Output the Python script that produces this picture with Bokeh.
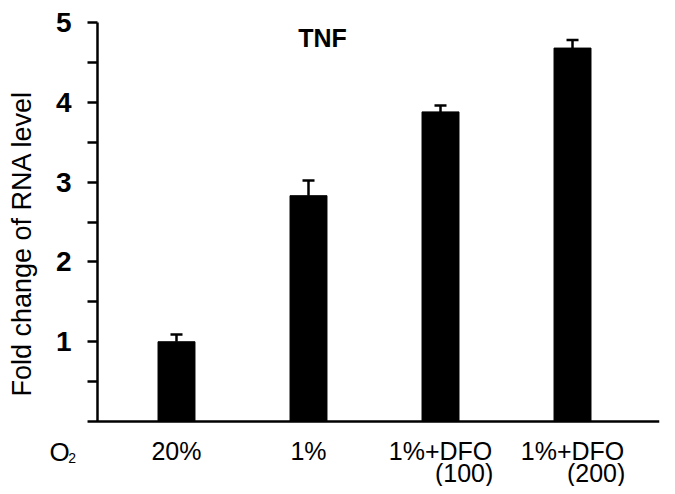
from bokeh.plotting import figure
from bokeh.models import Range1d, FixedTicker, Label, Whisker, TeeHead, ColumnDataSource
from bokeh.embed import file_html
from bokeh.resources import INLINE

# ---- data ----
conditions = ["20%", "1%", "1%+DFO", "1%+DFO"]
doses = ["", "", "(100)", "(200)"]
fold_change = [1.0, 2.83, 3.88, 4.68]
error_up = [0.09, 0.19, 0.08, 0.10]
y_ticks = [1, 2, 3, 4, 5]
y_minor_ticks = [0.5, 1.5, 2.5, 3.5, 4.5]
title_text = "TNF"
y_label = "Fold change of RNA level"

FONT = "Liberation Sans"

xs = list(range(1, len(conditions) + 1))
upper = [v + e for v, e in zip(fold_change, error_up)]
src = ColumnDataSource(dict(x=xs, top=fold_change, upper=upper))

X0, X1 = -0.3333, 4.659       # x range (frame spans whole width)
Y0, Y1 = -0.814, 5.276        # y range (frame spans whole height)
Y_AXIS_X = 0.4015             # where the vertical axis stands
X_AXIS_START = 0.326          # left end of the horizontal axis line

p = figure(width=667, height=486, output_backend="svg", toolbar_location=None,
           x_range=Range1d(X0, X1), y_range=Range1d(Y0, Y1),
           min_border_left=0, min_border_right=8, min_border_top=0,
           min_border_bottom=0)
p.background_fill_color = "white"
p.border_fill_color = "white"
p.outline_line_color = None
p.grid.visible = False

p.vbar(x="x", top="top", bottom=0, width=0.28, source=src,
       fill_color="black", line_color="black")

w = Whisker(base="x", lower="top", upper="upper", source=src,
            lower_head=None,
            upper_head=TeeHead(size=12, line_width=2.5, line_color="black"),
            line_width=2.5, line_color="black")
p.add_layout(w)

# axis lines
p.segment(x0=[X_AXIS_START], y0=[0], x1=[X1], y1=[0], line_color="black", line_width=2.5)
p.segment(x0=[Y_AXIS_X], y0=[0], x1=[Y_AXIS_X], y1=[y_ticks[-1]], line_color="black",
          line_width=2.5)

# y axis (ticks and labels)
yax = p.yaxis[0]
yax.fixed_location = Y_AXIS_X
yax.ticker = FixedTicker(ticks=y_ticks, minor_ticks=y_minor_ticks)
yax.axis_line_color = None
yax.major_tick_in = 0
yax.major_tick_out = 10
yax.minor_tick_in = 0
yax.minor_tick_out = 10
yax.major_tick_line_width = 2.5
yax.minor_tick_line_width = 2.5
yax.major_tick_line_color = "black"
yax.minor_tick_line_color = "black"
yax.major_label_text_font = FONT
yax.major_label_text_font_size = "28px"
yax.major_label_text_font_style = "bold"
yax.major_label_text_color = "black"
yax.major_label_standoff = 16
yax.axis_label = y_label
yax.axis_label_text_font = FONT
yax.axis_label_text_font_size = "27px"
yax.axis_label_text_font_style = "normal"
yax.axis_label_text_color = "black"
yax.axis_label_standoff = 16

# x axis (tick labels)
xax = p.xaxis[0]
xax.fixed_location = 0
xax.ticker = FixedTicker(ticks=xs, minor_ticks=[])
xax.major_label_overrides = {x: c for x, c in zip(xs, conditions)}
xax.axis_line_color = None
xax.major_tick_in = 0
xax.major_tick_out = 0
xax.minor_tick_in = 0
xax.minor_tick_out = 0
xax.major_label_text_font = FONT
xax.major_label_text_font_size = "25px"
xax.major_label_text_color = "black"
xax.major_label_standoff = 15

# second line of the x labels
for x, d in zip(xs, doses):
    if d:
        p.add_layout(Label(x=x + 0.40, y=-0.65, text=d, text_align="right",
                           text_baseline="middle", text_font=FONT,
                           text_font_size="25px", text_color="black"))

# O2 label
p.add_layout(Label(x=0.038, y=-0.38, text="O", text_align="left",
                   text_baseline="middle", text_font=FONT,
                   text_font_size="26px", text_color="black"))
p.add_layout(Label(x=0.18, y=-0.46, text="2", text_align="left",
                   text_baseline="middle", text_font=FONT,
                   text_font_size="14px", text_color="black"))

# title inside the plot
p.add_layout(Label(x=2.106, y=4.81, text=title_text, text_align="center",
                   text_baseline="middle", text_font=FONT,
                   text_font_size="25px", text_font_style="bold",
                   text_color="black"))

open("out.html", "w").write(file_html(p, INLINE))
